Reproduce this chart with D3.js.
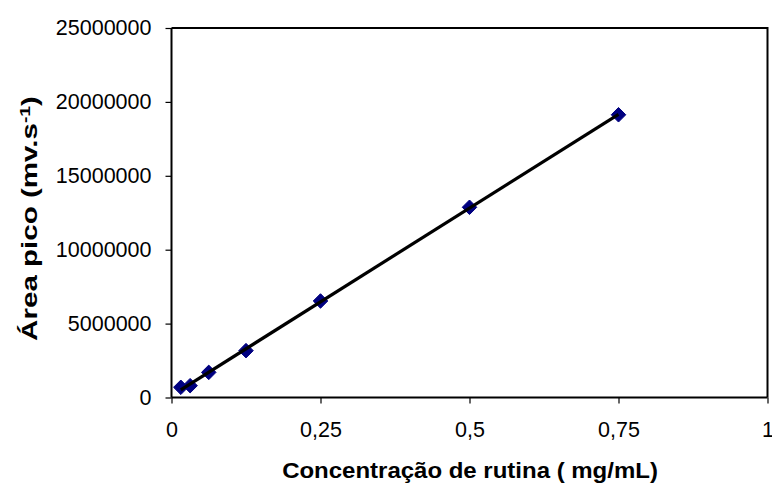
<!DOCTYPE html>
<html>
<head>
<meta charset="utf-8">
<script src="https://cdn.jsdelivr.net/npm/d3@7"></script>
<style>
  html, body { margin: 0; padding: 0; background: #fff; }
  svg { display: block; }
  text { font-family: Arial, "Liberation Sans", sans-serif; fill: #000; }
</style>
</head>
<body>
<script>
// Calibration data: rutin concentration (mg/mL) vs peak area (mV·s)
const concentration = [0.015625, 0.03125, 0.0625, 0.125, 0.25, 0.5, 0.75];
const peakArea = [690000, 800000, 1700000, 3170000, 6530000, 12870000, 19130000];
const xTicks = [0, 0.25, 0.5, 0.75, 1];
const xTickLabels = ["0", "0,25", "0,5", "0,75", "1"];
const yTicks = [0, 5000000, 10000000, 15000000, 20000000, 25000000];

const W = 772, H = 485;
const margin = { left: 171.5, right: 4.5, top: 28, bottom: 87.5 };
const innerW = W - margin.left - margin.right;
const innerH = H - margin.top - margin.bottom;

const svg = d3.select("body").append("svg").attr("width", W).attr("height", H);
const g = svg.append("g").attr("transform", `translate(${margin.left},${margin.top})`);

const x = d3.scaleLinear().domain([0, 1]).range([0, innerW]);
const y = d3.scaleLinear().domain([0, 25000000]).range([innerH, 0]);

// Plot frame (top and right edges)
g.append("path")
  .attr("d", `M0,0H${innerW}V${innerH}`)
  .attr("fill", "none").attr("stroke", "#000").attr("stroke-width", 2);

// Axes
const yAxis = d3.axisLeft(y).tickValues(yTicks).tickSize(6).tickPadding(14)
  .tickFormat(d3.format("d"));
const gy = g.append("g").call(yAxis);

const xAxis = d3.axisBottom(x).tickValues(xTicks).tickSize(6).tickPadding(18)
  .tickFormat((d, i) => xTickLabels[i]);
const gx = g.append("g").attr("transform", `translate(0,${innerH})`).call(xAxis);

[gy, gx].forEach(a => {
  a.select(".domain").attr("stroke", "#000").attr("stroke-width", 2);
  a.selectAll(".tick line").attr("stroke", "#000").attr("stroke-width", 1.2);
  a.selectAll(".tick text").attr("font-size", 21.5).attr("fill", "#000")
    .attr("font-family", "Arial, 'Liberation Sans', sans-serif");
});
gy.select(".domain").attr("d", `M0,${innerH}V0`);
gx.select(".domain").attr("d", `M0,0H${innerW}`);

// Least-squares linear trend line over the measured range
const n = concentration.length;
const mx = d3.mean(concentration), my = d3.mean(peakArea);
let sxy = 0, sxx = 0;
for (let i = 0; i < n; i++) {
  sxy += (concentration[i] - mx) * (peakArea[i] - my);
  sxx += (concentration[i] - mx) ** 2;
}
const slope = sxy / sxx, intercept = my - slope * mx;
const xMin = d3.min(concentration), xMax = d3.max(concentration);

// Markers
const diamond = d3.symbol().type(d3.symbolDiamond2).size(135);
g.selectAll("path.pt").data(concentration).join("path")
  .attr("class", "pt")
  .attr("d", diamond)
  .attr("transform", (d, i) => `translate(${x(d)},${y(peakArea[i])})`)
  .attr("fill", "#000080")
  .attr("stroke", "#000080").attr("stroke-width", 1);

g.append("line")
  .attr("x1", x(xMin)).attr("y1", y(intercept + slope * xMin))
  .attr("x2", x(xMax)).attr("y2", y(intercept + slope * xMax))
  .attr("stroke", "#000").attr("stroke-width", 3.2);

// Axis titles, stretched along their reading direction to a fixed span
function fitText(sel, target) {
  const len = sel.node().getBBox().width;
  return target / len;
}

const xt = svg.append("text")
  .attr("text-anchor", "middle").attr("font-size", 21.5).attr("font-weight", "bold")
  .text("Concentração de rutina ( mg/mL)");
const sx = fitText(xt, 376);
xt.attr("transform", `translate(470,477.5) scale(${sx},1)`);

const yt = svg.append("text")
  .attr("text-anchor", "middle").attr("font-size", 21.5).attr("font-weight", "bold");
yt.append("tspan").text("Área pico (mv.s");
yt.append("tspan").attr("baseline-shift", "super").attr("font-size", 14).text("-1");
yt.append("tspan").text(")");
const sy = fitText(yt, 245);
yt.attr("transform", `translate(37,218.5) rotate(-90) scale(${sy},1)`);
</script>
</body>
</html>
